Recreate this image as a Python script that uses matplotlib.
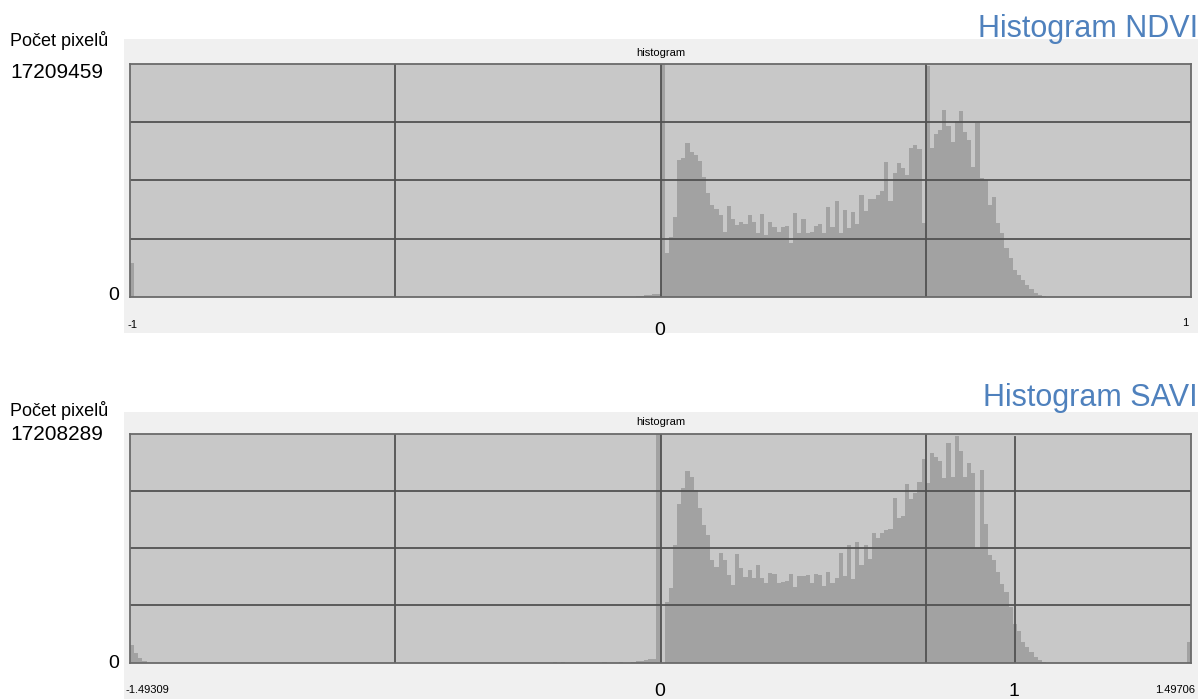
import numpy as np
import matplotlib
matplotlib.use("Agg")
import matplotlib.pyplot as plt
from matplotlib.patches import Rectangle

W, H = 1202, 699
N_BINS = 256

# NDVI: rozsah hodnot a počty pixelů v binech (v milionech)
NDVI_RANGE = (-1.0, 1.0)
NDVI_MAX = 17209459
ndvi_first_bin = [2.50]                                  # bin u -1
ndvi_near_zero = [0.07, 0.10, 0.14, 0.17, 0.21, 0.24]    # biny 122-127
ndvi_main = [                                            # biny od 0 výš
    17.209459, 3.27, 4.41, 5.94, 10.12, 10.29, 11.36, 10.74, 10.48, 10.07,
    8.88, 7.66, 6.80, 6.47, 6.06, 4.82, 6.71, 5.73, 5.32, 5.56,
    5.39, 6.06, 5.51, 4.70, 6.13, 4.58, 5.56, 5.15, 4.82, 5.15,
    5.27, 4.01, 6.23, 4.70, 5.73, 4.70, 4.78, 5.27, 5.39, 4.70,
    6.63, 5.20, 7.11, 4.70, 6.42, 5.08, 6.30, 5.39, 7.57, 6.35,
    7.21, 7.21, 7.57, 7.85, 10.00, 7.11, 9.14, 9.88, 9.50, 9.02,
    10.98, 11.22, 10.91, 5.44, 17.05, 10.98, 12.05, 12.34, 13.82, 12.63,
    11.48, 13.03, 13.77, 12.22, 11.60, 9.62, 12.82, 8.76, 8.64, 6.80,
    7.42, 5.44, 4.70, 3.60, 2.86, 2.00, 1.62, 1.26, 0.89, 0.57,
    0.33, 0.15, 0.07,
]

# SAVI
SAVI_RANGE = (-1.49309, 1.49706)
SAVI_MAX = 17208289
savi_first_bins = [1.30, 0.70, 0.35, 0.10]               # biny 0-3
savi_last_bin = [1.55]                                   # bin 255
savi_sparse = {102: 0.04, 104: 0.04, 114: 0.05, 118: 0.05}
savi_near_zero = [0.07, 0.10, 0.15, 0.20, 0.26, 0.30, 17.208289]  # biny 121-127
savi_main = [                                            # biny 128 výš
    0.0, 4.58, 5.64, 8.85, 11.93, 13.11, 14.44, 13.99, 12.99, 11.60,
    10.34, 9.60, 7.71, 7.21, 8.26, 7.71, 6.57, 5.83, 8.16, 7.09,
    6.45, 6.95, 6.33, 7.33, 6.33, 6.01, 6.76, 6.66, 6.01, 6.06,
    6.16, 6.66, 5.70, 6.50, 6.50, 6.57, 6.01, 6.66, 6.57, 5.75,
    6.83, 6.01, 6.33, 8.26, 6.50, 8.85, 6.26, 9.09, 7.33, 8.85,
    7.76, 9.72, 9.41, 9.72, 9.98, 10.05, 12.36, 10.86, 11.03, 13.44,
    12.29, 12.73, 13.56, 15.30, 13.49, 15.75, 15.45, 15.19, 13.87, 16.50,
    13.94, 17.07, 15.95, 13.94, 15.01, 14.25, 8.60, 14.49, 10.43, 8.09,
    7.69, 6.81, 5.90, 5.28, 4.15, 2.89, 2.39, 1.51, 1.14, 0.76,
    0.38, 0.17, 0.07,
]

PANEL_BG = "#f0f0f0"
PLOT_BG = "#c8c8c8"
BAR_COLOR = "#a2a2a2"
LINE_COLOR = "#525252"
TITLE_COLOR = "#4f81bd"


def fig_rect(x0, y0, x1, y1):
    return [x0 / W, 1 - y1 / H, (x1 - x0) / W, (y1 - y0) / H]


def fx(x):
    return x / W


def fy(y):
    return 1 - y / H


def build_counts(parts):
    counts = np.zeros(N_BINS)
    for start, values in parts:
        counts[start:start + len(values)] = values
    return counts * 1e6


def draw_hist(fig, box, panel, rng, counts, ymax, extra_lines=()):
    x0, y0, x1, y1 = panel
    fig.patches.append(Rectangle((fx(x0), fy(y1)), fx(x1) - fx(x0), fy(y0) - fy(y1),
                                 transform=fig.transFigure, facecolor=PANEL_BG,
                                 edgecolor="none", zorder=-10))
    ax = fig.add_axes(fig_rect(*box))
    ax.set_zorder(1)
    ax.set_facecolor(PLOT_BG)
    edges = np.linspace(rng[0], rng[1], N_BINS + 1)
    ax.bar(edges[:-1], counts, width=np.diff(edges), align="edge",
           color=BAR_COLOR, linewidth=0, zorder=1)
    ax.set_xlim(rng)
    ax.set_ylim(0, ymax)
    span = rng[1] - rng[0]
    for q in (0.25, 0.5, 0.75):
        ax.axvline(rng[0] + span * q, color=LINE_COLOR, lw=1.3, zorder=2)
        ax.axhline(ymax * q, color=LINE_COLOR, lw=1.3, zorder=2)
    for xv in extra_lines:
        ax.axvline(xv, ymin=0, ymax=0.985, color=LINE_COLOR, lw=1.3, zorder=2)
    for s in ax.spines.values():
        s.set_color("#6a6a6a")
        s.set_linewidth(1.3)
    ax.set_xticks([])
    ax.set_yticks([])
    return ax


plt.rcParams['font.family'] = ['Liberation Sans', 'DejaVu Sans']
small_font = ['Liberation Sans Narrow', 'Liberation Sans', 'DejaVu Sans']

fig = plt.figure(figsize=(W / 100, H / 100), dpi=100)

ndvi_counts = build_counts([(0, ndvi_first_bin), (122, ndvi_near_zero), (128, ndvi_main)])
savi_counts = build_counts([(0, savi_first_bins), (255, savi_last_bin),
                            (121, savi_near_zero), (128, savi_main)]
                           + [(k, [v]) for k, v in savi_sparse.items()])

draw_hist(fig, (130, 64, 1191, 297), (124, 39, 1198, 333), NDVI_RANGE, ndvi_counts, NDVI_MAX)
draw_hist(fig, (130, 434, 1191, 662.5), (124, 412, 1198, 699), SAVI_RANGE, savi_counts,
          SAVI_MAX, extra_lines=(1.0,))

# popisky horního grafu
fig.text(fx(1198), fy(37), "Histogram NDVI", ha="right", va="baseline",
         fontsize=22, color=TITLE_COLOR)
fig.text(fx(10), fy(41), "Počet pixelů", ha="left", va="center", fontsize=13)
fig.text(fx(10), fy(73), f"{NDVI_MAX}", ha="left", va="center", fontsize=15)
fig.text(fx(108), fy(296), "0", ha="left", va="center", fontsize=14)
fig.text(fx(661), fy(53), "histogram", ha="center", va="center", fontsize=8,
         family=small_font)
fig.text(fx(128), fy(325), "-1", ha="left", va="center", fontsize=8, family=small_font)
fig.text(fx(660), fy(331), "0", ha="center", va="center", fontsize=14)
fig.text(fx(1188), fy(323), "1", ha="right", va="center", fontsize=8, family=small_font)

# popisky dolního grafu
fig.text(fx(1198), fy(406), "Histogram SAVI", ha="right", va="baseline",
         fontsize=22, color=TITLE_COLOR)
fig.text(fx(10), fy(410), "Počet pixelů", ha="left", va="center", fontsize=13)
fig.text(fx(10), fy(435), f"{SAVI_MAX}", ha="left", va="center", fontsize=15)
fig.text(fx(108), fy(663), "0", ha="left", va="center", fontsize=14)
fig.text(fx(661), fy(422), "histogram", ha="center", va="center", fontsize=8,
         family=small_font)
fig.text(fx(126), fy(690), f"{SAVI_RANGE[0]:.5f}", ha="left", va="center", fontsize=8,
         family=small_font)
fig.text(fx(660), fy(691), "0", ha="center", va="center", fontsize=14)
fig.text(fx(1014), fy(691), "1", ha="center", va="center", fontsize=14)
fig.text(fx(1195), fy(690), f"{SAVI_RANGE[1]:.5f}", ha="right", va="center", fontsize=8,
         family=small_font)

fig.savefig("out.png", dpi=100, facecolor="white")
